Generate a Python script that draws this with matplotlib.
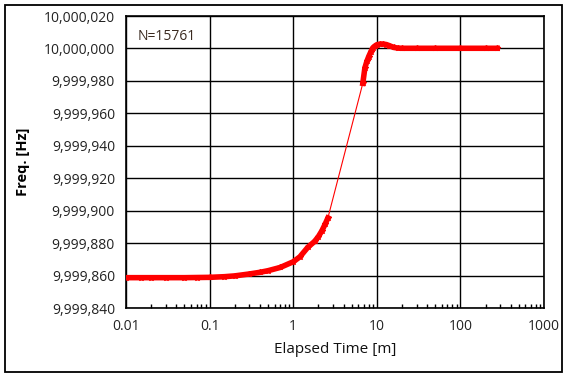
import matplotlib
matplotlib.use("Agg")
import matplotlib.pyplot as plt
from matplotlib.patches import Rectangle
from matplotlib.ticker import FuncFormatter, LogLocator, NullFormatter

# dense part before the jump (time in minutes, freq in Hz)
t_low = [0.01, 0.015, 0.02, 0.03, 0.05, 0.07, 0.1, 0.15, 0.2, 0.3, 0.4, 0.5,
         0.7, 1.0, 1.2, 1.5, 1.8, 2.0, 2.2, 2.4, 2.6]
f_low = [9999858.7, 9999858.7, 9999858.7, 9999858.7, 9999858.7, 9999858.8,
         9999858.9, 9999859.3, 9999859.8, 9999861.0, 9999862.0, 9999863.0,
         9999865.0, 9999868.5, 9999871.5, 9999877.5, 9999881.0, 9999884.0,
         9999887.5, 9999891.5, 9999895.5]

# dense part after the jump
t_high = [6.8, 7.2, 7.6, 8.0, 8.5, 9.0, 9.5, 10, 11, 12, 13, 14, 16, 18,
          20, 30, 50, 100, 200, 275]
f_high = [9999978.5, 9999988.0, 9999992.0, 9999995.0, 9999998.0, 10000000.5,
          10000001.5, 10000002.3, 10000002.7, 10000002.7, 10000002.4,
          10000001.8, 10000000.6, 10000000.2, 10000000.1, 10000000.1,
          10000000.1, 10000000.1, 10000000.1, 10000000.1]

n_label = "N=15761"
yticks = [9999840, 9999860, 9999880, 9999900, 9999920, 9999940, 9999960,
          9999980, 10000000, 10000020]
xticks = [0.01, 0.1, 1, 10, 100, 1000]
xticklabels = ["0.01", "0.1", "1", "10", "100", "1000"]

plt.rcParams['font.family'] = ['Open Sans', 'DejaVu Sans']

fig = plt.figure(figsize=(5.67, 3.77), dpi=100)
fig.patches.append(Rectangle((5 / 567, 5 / 377), 557 / 567, 367 / 377,
                             transform=fig.transFigure, fill=False,
                             ec='black', lw=1.3))
ax = fig.add_axes([126 / 567, 69 / 377, 418 / 567, 292 / 377])

red = '#ff0000'
ax.plot(t_low, f_low, color=red, lw=4, marker='*', ms=4, zorder=3)
ax.plot(t_high, f_high, color=red, lw=4, marker='*', ms=4, zorder=3)
ax.plot([t_low[-1], t_high[0]], [f_low[-1], f_high[0]], color=red, lw=0.8,
        zorder=3)

ax.set_xscale('log')
ax.set_xlim(0.01, 1000)
ax.set_ylim(9999840, 10000020)
ax.set_xticks(xticks)
ax.set_xticklabels(xticklabels)
ax.set_yticks(yticks)
ax.yaxis.set_major_formatter(FuncFormatter(lambda v, p: "{:,.0f}".format(v)))
ax.xaxis.set_minor_locator(LogLocator(base=10, subs=range(2, 10), numticks=20))
ax.xaxis.set_minor_formatter(NullFormatter())

ax.grid(True, which='major', color='black', lw=1)
ax.tick_params(which='major', length=0, labelsize=10, colors='#222222', pad=8)
ax.tick_params(axis='x', which='minor', direction='in', length=3, width=1,
               color='black')
ax.tick_params(axis='y', which='minor', length=0)
for s in ax.spines.values():
    s.set_linewidth(1.2)

ax.text(0.027, 0.93, n_label, transform=ax.transAxes, fontsize=10,
        color='#3a2a20', va='center')
ax.set_xlabel("Elapsed Time [m]", fontsize=11, color='#111111', labelpad=6)
ax.set_ylabel("Freq. [Hz]", fontsize=10.5, fontweight='bold', labelpad=10)

fig.savefig("out.png", dpi=100)
